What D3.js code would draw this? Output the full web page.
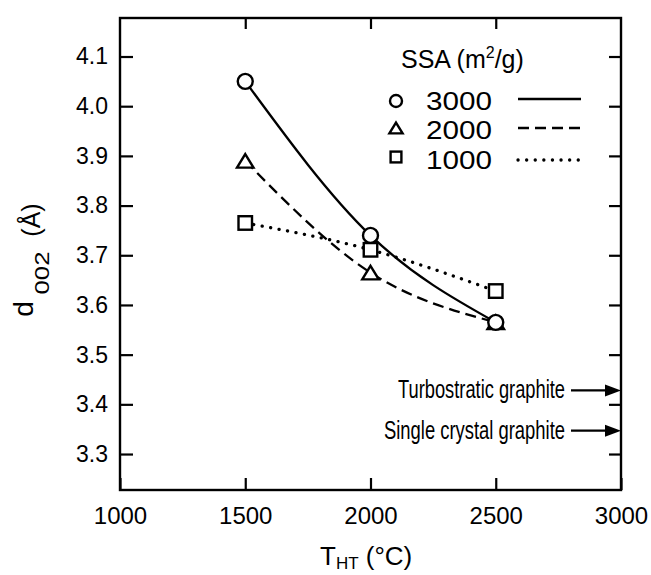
<!DOCTYPE html>
<html>
<head>
<meta charset="utf-8">
<script src="https://cdn.jsdelivr.net/npm/d3@7/dist/d3.min.js"></script>
<style>
  html, body { margin: 0; padding: 0; background: #fff; }
  svg { display: block; }
  text { font-family: "Liberation Sans", Arial, sans-serif; fill: #000; }
</style>
</head>
<body>
<svg id="chart" width="651" height="575"></svg>
<script>
// ---- data ----
const temps = [1500, 2000, 2500];
const ssa3000 = [4.05, 3.74, 3.565];
const ssa2000 = [3.89, 3.665, 3.565];
const ssa1000 = [3.765, 3.711, 3.628];
const seriesNames = ["3000", "2000", "1000"];
const xTickValues = [1000, 1500, 2000, 2500, 3000];
const yTickValues = [3.3, 3.4, 3.5, 3.6, 3.7, 3.8, 3.9, 4.0, 4.1];
const refLabels = ["Turbostratic graphite", "Single crystal graphite"];
const refValues = [3.428, 3.347];

// ---- layout ----
const svg = d3.select("#chart");
const L = 120, R = 621, T = 18, B = 490;
const x = d3.scaleLinear().domain([1000, 3000]).range([L, R]);
const y = d3.scaleLinear().domain([3.2276, 4.1775]).range([B, T]);

// frame
svg.append("rect").attr("x", L).attr("y", T).attr("width", R - L).attr("height", B - T)
  .attr("fill", "none").attr("stroke", "#000").attr("stroke-width", 2.4);

// axes
const yAxis = d3.axisLeft(y).tickValues(yTickValues).tickSize(-13).tickPadding(12)
  .tickFormat(d3.format(".1f"));
const gy = svg.append("g").attr("transform", `translate(${L},0)`).call(yAxis);
const yAxisR = d3.axisRight(y).tickValues(yTickValues).tickSize(-12).tickFormat("");
const gyr = svg.append("g").attr("transform", `translate(${R},0)`).call(yAxisR);
const xAxis = d3.axisBottom(x).tickValues(xTickValues).tickSize(-12).tickPadding(17)
  .tickFormat(d3.format("d"));
const gx = svg.append("g").attr("transform", `translate(0,${B})`).call(xAxis);
const xAxisT = d3.axisTop(x).tickValues(xTickValues.slice(1, -1)).tickSize(-11).tickFormat("");
const gxt = svg.append("g").attr("transform", `translate(0,${T})`).call(xAxisT);
[gy, gyr, gx, gxt].forEach(g => {
  g.select(".domain").remove();
  g.selectAll(".tick line").attr("stroke", "#000").attr("stroke-width", 2.2);
  g.selectAll("text").attr("font-family", "Liberation Sans, Arial, sans-serif").attr("fill", "#000");
});
gy.selectAll("text").attr("font-size", 23);
gx.selectAll("text").attr("font-size", 24);

// curves
const line = d3.line().x(d => x(d[0])).y(d => y(d[1])).curve(d3.curveNatural);
const seriesValues = [ssa3000, ssa2000, ssa1000];
const dashes = [null, "11,6", "0.1,8.5"];
const caps = ["butt", "butt", "round"];
const widths = [2.3, 2.3, 3.3];
seriesValues.forEach((vals, i) => {
  svg.append("path").datum(temps.map((t, j) => [t, vals[j]]))
    .attr("d", line).attr("fill", "none").attr("stroke", "#000")
    .attr("stroke-width", widths[i]).attr("stroke-linecap", caps[i])
    .attr("stroke-dasharray", dashes[i]);
});

// marker shapes
function drawMarker(g, kind, cx, cy, s) {
  if (kind === 0) {
    g.append("circle").attr("cx", cx).attr("cy", cy).attr("r", s * 0.5)
      .attr("fill", "#fff").attr("stroke", "#000").attr("stroke-width", 2.4);
  } else if (kind === 1) {
    const h = s * 0.9, w = s * 0.55;
    g.append("path").attr("d", `M${cx},${cy - h / 2}L${cx + w},${cy + h / 2}L${cx - w},${cy + h / 2}Z`)
      .attr("fill", "#fff").attr("stroke", "#000").attr("stroke-width", 2.4).attr("stroke-linejoin", "miter");
  } else {
    g.append("rect").attr("x", cx - s * 0.45).attr("y", cy - s * 0.45).attr("width", s * 0.9).attr("height", s * 0.9)
      .attr("fill", "#fff").attr("stroke", "#000").attr("stroke-width", 2.4);
  }
}
const gm = svg.append("g");
// draw order: squares, triangles, circles
[2, 1, 0].forEach(i => {
  temps.forEach((t, j) => drawMarker(gm, i, x(t), y(seriesValues[i][j]), 15));
});

// legend
const lg = svg.append("g");
lg.append("text").attr("x", 401).attr("y", 68).attr("font-size", 25)
  .call(t => {
    t.append("tspan").text("SSA (m");
    t.append("tspan").attr("font-size", 16).attr("dy", -10).text("2");
    t.append("tspan").attr("dy", 10).text("/g)");
  });
const rowY = [101, 130, 160];
seriesNames.forEach((name, i) => {
  drawMarker(lg, i, 396, rowY[i] + (i === 1 ? -2 : (i === 2 ? -3 : 0)), 12);
  lg.append("text").attr("x", 426).attr("y", rowY[i] + 9).attr("font-size", 25)
    .attr("textLength", 66).attr("lengthAdjust", "spacingAndGlyphs").text(name);
  lg.append("line").attr("x1", 518).attr("x2", 581)
    .attr("y1", rowY[i] - 2 + (i === 2 ? 2 : 0)).attr("y2", rowY[i] - 2 + (i === 2 ? 2 : 0))
    .attr("stroke", "#000").attr("stroke-width", widths[i])
    .attr("stroke-linecap", caps[i]).attr("stroke-dasharray", dashes[i]);
});

// reference arrows
const textWidths = [167, 181];
refLabels.forEach((lab, i) => {
  const yy = y(refValues[i]);
  const xe = x(3000);
  svg.append("line").attr("x1", xe - 50).attr("x2", xe - 12).attr("y1", yy).attr("y2", yy)
    .attr("stroke", "#000").attr("stroke-width", 2.4);
  svg.append("path").attr("d", `M${xe},${yy}L${xe - 16},${yy - 6}L${xe - 16},${yy + 6}Z`).attr("fill", "#000");
  svg.append("text").attr("x", xe - 56).attr("y", yy + 8).attr("text-anchor", "end")
    .attr("font-size", 25).attr("textLength", textWidths[i]).attr("lengthAdjust", "spacingAndGlyphs")
    .text(lab);
});

// y label
const yl = svg.append("g");
yl.append("text").attr("transform", "translate(33,309) rotate(-90)").attr("text-anchor", "middle")
  .attr("font-size", 28).text("d");
yl.append("text").attr("transform", "translate(49,273) rotate(-90)").attr("text-anchor", "middle")
  .attr("font-size", 21).attr("textLength", 43).attr("lengthAdjust", "spacingAndGlyphs").text("002");
yl.append("text").attr("transform", "translate(40,220) rotate(-90)").attr("text-anchor", "middle")
  .attr("font-size", 25).text("(Å)");

// x label
svg.append("text").attr("x", 320).attr("y", 565).attr("font-size", 26)
  .call(t => {
    t.append("tspan").text("T");
    t.append("tspan").attr("font-size", 17).attr("dy", 4).text("HT");
    t.append("tspan").attr("dy", -4).text(" (°C)");
  });
</script>
</body>
</html>
